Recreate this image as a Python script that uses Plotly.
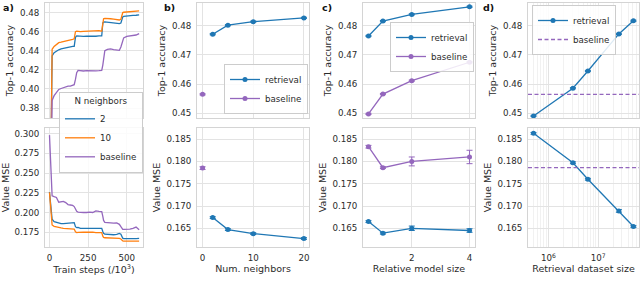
import plotly.graph_objects as go

# ---------------- data ----------------
# panel a: training curves
a_steps = [0, 17, 30, 45, 60, 75, 90, 105, 120, 135, 150, 160, 168, 176, 185, 200, 220, 240, 260, 280,
           300, 320, 338, 345, 350, 358, 375, 395, 415, 435, 452, 462, 469, 474, 480, 500, 520, 540, 560, 580]
a_acc_2 = [0.20, 0.4345, 0.4380, 0.4400, 0.4410, 0.4420, 0.4425, 0.4430, 0.4440, 0.4442, 0.4445, 0.4445,
           0.4540, 0.4555, 0.4553, 0.4550, 0.4550, 0.4552, 0.4550, 0.4548, 0.4552, 0.4555, 0.4555, 0.4690,
           0.4700, 0.4703, 0.4700, 0.4695, 0.4690, 0.4688, 0.4685, 0.4690, 0.4745, 0.4755, 0.4760, 0.4765,
           0.4768, 0.4770, 0.4772, 0.4775]
a_acc_10 = [0.20, 0.4415, 0.4445, 0.4470, 0.4485, 0.4490, 0.4495, 0.4500, 0.4505, 0.4508, 0.4520, 0.4525,
            0.4600, 0.4605, 0.4602, 0.4600, 0.4603, 0.4604, 0.4606, 0.4605, 0.4612, 0.4610, 0.4605, 0.4720,
            0.4735, 0.4738, 0.4740, 0.4735, 0.4732, 0.4728, 0.4722, 0.4730, 0.4790, 0.4800, 0.4803, 0.4805,
            0.4807, 0.4810, 0.4815, 0.4818]
a_acc_base = [0.15, 0.3880, 0.3930, 0.3970, 0.3995, 0.4005, 0.4015, 0.4025, 0.4030, 0.4030, 0.4035, 0.4045,
              0.4100, 0.4170, 0.4195, 0.4190, 0.4188, 0.4192, 0.4190, 0.4192, 0.4190, 0.4192, 0.4195, 0.4250,
              0.4320, 0.4400, 0.4415, 0.4420, 0.4412, 0.4408, 0.4405, 0.4440, 0.4480, 0.4510, 0.4535, 0.4550,
              0.4555, 0.4560, 0.4565, 0.4580]
a_mse_2 = [0.2260, 0.1914, 0.1885, 0.1875, 0.1868, 0.1860, 0.1858, 0.1860, 0.1862, 0.1865, 0.1870, 0.1872,
           0.1820, 0.1808, 0.1812, 0.1800, 0.1798, 0.1797, 0.1800, 0.1798, 0.1800, 0.1802, 0.1800, 0.1760,
           0.1735, 0.1725, 0.1722, 0.1720, 0.1718, 0.1722, 0.1735, 0.1725, 0.1690, 0.1675, 0.1670, 0.1668,
           0.1668, 0.1670, 0.1670, 0.1671]
a_mse_10 = [0.2255, 0.1842, 0.1825, 0.1815, 0.1808, 0.1805, 0.1800, 0.1798, 0.1797, 0.1796, 0.1795, 0.1790,
            0.1755, 0.1745, 0.1748, 0.1752, 0.1750, 0.1752, 0.1755, 0.1750, 0.1745, 0.1748, 0.1745, 0.1700,
            0.1685, 0.1680, 0.1678, 0.1680, 0.1682, 0.1676, 0.1672, 0.1665, 0.1645, 0.1640, 0.1638, 0.1640,
            0.1638, 0.1637, 0.1638, 0.1637]
a_mse_base = [0.2980, 0.2212, 0.2200, 0.2190, 0.2130, 0.2135, 0.2140, 0.2125, 0.2100, 0.2095, 0.2090, 0.2075,
              0.2040, 0.2015, 0.2005, 0.2000, 0.2000, 0.2000, 0.2005, 0.2000, 0.2020, 0.2015, 0.2012, 0.1950,
              0.1900, 0.1875, 0.1870, 0.1868, 0.1865, 0.1868, 0.1850, 0.1820, 0.1795, 0.1787, 0.1785, 0.1786,
              0.1790, 0.1800, 0.1815, 0.1780]

# panel b: number of neighbours
b_neighbors = [2, 5, 10, 20]
b_acc = [0.4771, 0.4802, 0.4814, 0.4827]
b_acc_err = [0.0002, 0.0002, 0.0002, 0.0002]
b_mse = [0.1674, 0.1647, 0.1638, 0.1627]
b_mse_err = [0.0002, 0.0002, 0.0002, 0.0002]
b_base_x = [0]
b_base_acc = [0.4565]
b_base_acc_err = [0.0002]
b_base_mse = [0.1785]
b_base_mse_err = [0.0003]

# panel c: relative model size
c_size = [0.5, 1, 2, 4]
c_ret_acc = [0.4765, 0.4816, 0.4839, 0.4865]
c_ret_acc_err = [0.0002, 0.0002, 0.0002, 0.0002]
c_base_acc = [0.4498, 0.4566, 0.4612, 0.4675]
c_base_acc_err = [0.0002, 0.0002, 0.0002, 0.0002]
c_ret_mse = [0.1665, 0.1639, 0.1650, 0.1645]
c_ret_mse_err = [0.0002, 0.0002, 0.0005, 0.0004]
c_base_mse = [0.1833, 0.1786, 0.1800, 0.1810]
c_base_mse_err = [0.0003, 0.0002, 0.0010, 0.0015]

# panel d: retrieval dataset size
d_size = [5e5, 3.1e6, 6.2e6, 2.6e7, 5.1e7]
d_acc = [0.4491, 0.4586, 0.4645, 0.4772, 0.4817]
d_acc_err = [0.0002, 0.0002, 0.0002, 0.0002, 0.0002]
d_mse = [0.1863, 0.1797, 0.1760, 0.1689, 0.1654]
d_mse_err = [0.0002, 0.0002, 0.0002, 0.0003, 0.0002]
d_base_acc = 0.4565
d_base_mse = 0.1786

# ---------------- style ----------------
W, H = 640, 294
BLUE, ORANGE, PURPLE = "#1f77b4", "#ff7f0e", "#9467bd"
TXT = "#2b2b2b"
GRID = "#e3e3e3"
EDGE = "#d4d4d4"
FONT = "DejaVu Sans"
TICK = 8.7
LAB = 9.5

def xd(a, b):
    return [a / W, b / W]

def yd(a, b):
    return [1 - b / H, 1 - a / H]

cols = {"a": (45, 143), "b": (197, 309), "c": (363, 475), "d": (528, 639)}
TOP, BOT = (3, 118), (128, 247)

fig = go.Figure()

def line_tr(x, y, color, name, xa, ya, legend, show):
    return go.Scatter(x=x, y=y, mode="lines", line=dict(color=color, width=1.3), name=name,
                      xaxis=xa, yaxis=ya, legend=legend, showlegend=show)

def err_tr(x, y, e, color, name, xa, ya, legend, show):
    return go.Scatter(x=x, y=y, mode="lines+markers", name=name,
                      line=dict(color=color, width=1.3), marker=dict(color=color, size=5),
                      error_y=dict(type="data", array=e, color=color, thickness=1, width=3),
                      xaxis=xa, yaxis=ya, legend=legend, showlegend=show)

# panel a
fig.add_trace(line_tr(a_steps, a_acc_2, BLUE, "2", "x", "y", "legend", True))
fig.add_trace(line_tr(a_steps, a_acc_10, ORANGE, "10", "x", "y", "legend", True))
fig.add_trace(line_tr(a_steps, a_acc_base, PURPLE, "baseline", "x", "y", "legend", True))
fig.add_trace(line_tr(a_steps, a_mse_2, BLUE, "2", "x2", "y2", "legend", False))
fig.add_trace(line_tr(a_steps, a_mse_10, ORANGE, "10", "x2", "y2", "legend", False))
fig.add_trace(line_tr(a_steps, a_mse_base, PURPLE, "baseline", "x2", "y2", "legend", False))

# panel b
fig.add_trace(err_tr(b_neighbors, b_acc, b_acc_err, BLUE, "retrieval", "x3", "y3", "legend2", True))
fig.add_trace(err_tr(b_base_x, b_base_acc, b_base_acc_err, PURPLE, "baseline", "x3", "y3", "legend2", True))
fig.add_trace(err_tr(b_neighbors, b_mse, b_mse_err, BLUE, "retrieval", "x4", "y4", "legend2", False))
fig.add_trace(err_tr(b_base_x, b_base_mse, b_base_mse_err, PURPLE, "baseline", "x4", "y4", "legend2", False))

# panel c
fig.add_trace(err_tr(c_size, c_ret_acc, c_ret_acc_err, BLUE, "retrieval", "x5", "y5", "legend3", True))
fig.add_trace(err_tr(c_size, c_base_acc, c_base_acc_err, PURPLE, "baseline", "x5", "y5", "legend3", True))
fig.add_trace(err_tr(c_size, c_ret_mse, c_ret_mse_err, BLUE, "retrieval", "x6", "y6", "legend3", False))
fig.add_trace(err_tr(c_size, c_base_mse, c_base_mse_err, PURPLE, "baseline", "x6", "y6", "legend3", False))

# panel d
fig.add_trace(err_tr(d_size, d_acc, d_acc_err, BLUE, "retrieval", "x7", "y7", "legend4", True))
fig.add_trace(go.Scatter(x=[None], y=[None], mode="lines", name="baseline",
                         line=dict(color=PURPLE, width=1.3, dash="4px,2.5px"),
                         xaxis="x7", yaxis="y7", legend="legend4", showlegend=True))
fig.add_trace(err_tr(d_size, d_mse, d_mse_err, BLUE, "retrieval", "x8", "y8", "legend4", False))
for xa, ya, val in (("x7", "y7", d_base_acc), ("x8", "y8", d_base_mse)):
    fig.add_shape(type="line", xref=xa + " domain", x0=0, x1=1,
                  yref=ya, y0=val, y1=val, line=dict(color=PURPLE, width=1.3, dash="4px,2.5px"))

def axis(**kw):
    base = dict(showgrid=True, gridcolor=GRID, gridwidth=1, zeroline=False, showline=True, mirror=True,
                linecolor=EDGE, linewidth=1, ticks="", tickfont=dict(family=FONT, size=TICK, color=TXT),
                title_font=dict(family=FONT, size=LAB, color=TXT), ticklabelstandoff=3)
    base.update(kw)
    return base

lay = {}
acc_ticks = [0.45, 0.46, 0.47, 0.48]
mse_ticks = [0.165, 0.170, 0.175, 0.180, 0.185]
acc_rng = [0.4484, 0.4878]
mse_rng = [0.1608, 0.1875]

# a
lay["xaxis"] = axis(domain=xd(*cols["a"]), anchor="y", range=[-29, 605], tickvals=[0, 250, 500], showticklabels=False)
lay["yaxis"] = axis(domain=yd(*TOP), anchor="x", range=[0.3696, 0.490], tickvals=[0.38, 0.40, 0.42, 0.44, 0.46, 0.48],
                    tickformat=".2f", title=dict(text="Top-1 accuracy", standoff=4))
lay["xaxis2"] = axis(domain=xd(*cols["a"]), anchor="y2", range=[-29, 605], tickvals=[0, 250, 500],
                     title=dict(text="Train steps (/10<sup>3</sup>)", standoff=2))
lay["yaxis2"] = axis(domain=yd(*BOT), anchor="x2", range=[0.1563, 0.307], tickvals=[0.175, 0.2, 0.225, 0.25, 0.275, 0.3],
                     tickformat=".3f", title=dict(text="Value MSE", standoff=4))
# b
lay["xaxis3"] = axis(domain=xd(*cols["b"]), anchor="y3", range=[-1.1, 21.0], tickvals=[0, 10, 20], showticklabels=False)
lay["yaxis3"] = axis(domain=yd(*TOP), anchor="x3", range=acc_rng, tickvals=acc_ticks, tickformat=".2f",
                     title=dict(text="Top-1 accuracy", standoff=4))
lay["xaxis4"] = axis(domain=xd(*cols["b"]), anchor="y4", range=[-1.1, 21.0], tickvals=[0, 10, 20],
                     title=dict(text="Num. neighbors", standoff=2))
lay["yaxis4"] = axis(domain=yd(*BOT), anchor="x4", range=mse_rng, tickvals=mse_ticks, tickformat=".3f",
                     title=dict(text="Value MSE", standoff=4))
# c
lay["xaxis5"] = axis(domain=xd(*cols["c"]), anchor="y5", range=[0.31, 4.19], tickvals=[2, 4], showticklabels=False)
lay["yaxis5"] = axis(domain=yd(*TOP), anchor="x5", range=acc_rng, tickvals=acc_ticks, tickformat=".2f",
                     title=dict(text="Top-1 accuracy", standoff=4))
lay["xaxis6"] = axis(domain=xd(*cols["c"]), anchor="y6", range=[0.31, 4.19], tickvals=[2, 4],
                     title=dict(text="Relative model size", standoff=2))
lay["yaxis6"] = axis(domain=yd(*BOT), anchor="x6", range=mse_rng, tickvals=mse_ticks, tickformat=".3f",
                     title=dict(text="Value MSE", standoff=4))
# d
minor_vals = [k * 10 ** e for e in (5, 6, 7) for k in range(2, 10)]
minor = dict(showgrid=True, gridcolor="#f1f1f1", gridwidth=1, tickvals=minor_vals, ticks="")
lay["xaxis7"] = axis(domain=xd(*cols["d"]), anchor="y7", type="log", range=[5.588, 7.82], tickvals=[1e6, 1e7],
                     showticklabels=False, minor=minor)
lay["yaxis7"] = axis(domain=yd(*TOP), anchor="x7", range=acc_rng, tickvals=acc_ticks, tickformat=".2f",
                     title=dict(text="Top-1 accuracy", standoff=4))
lay["xaxis8"] = axis(domain=xd(*cols["d"]), anchor="y8", type="log", range=[5.588, 7.82], tickvals=[1e6, 1e7],
                     ticktext=["10<sup>6</sup>", "10<sup>7</sup>"], minor=minor,
                     title=dict(text="Retrieval dataset size", standoff=2))
lay["yaxis8"] = axis(domain=yd(*BOT), anchor="x8", range=mse_rng, tickvals=mse_ticks, tickformat=".3f",
                     title=dict(text="Value MSE", standoff=4))

def leg(x, y, xa, ya, title=None):
    d = dict(x=x / W, y=1 - y / H, xanchor=xa, yanchor=ya, bgcolor="rgba(255,255,255,0.85)",
             bordercolor="#cccccc", borderwidth=1, font=dict(family=FONT, size=TICK, color=TXT),
             itemwidth=30, tracegroupgap=0)
    if title:
        d["title"] = dict(text=title, side="top center", font=dict(family=FONT, size=TICK, color=TXT))
    return d

lay["legend"] = leg(143, 92, "right", "top", "N neighbors")
lay["legend2"] = leg(308, 114, "right", "bottom")
lay["legend3"] = leg(474, 22, "right", "top")
lay["legend4"] = leg(532, 5, "left", "top")

fig.update_layout(**lay)

for lbl, px in (("a)", 1), ("b)", 162), ("c)", 320), ("d)", 481)):
    fig.add_annotation(text="<b>%s</b>" % lbl, x=px / W, y=1.0, xref="paper", yref="paper",
                       xanchor="left", yanchor="top", showarrow=False,
                       font=dict(family=FONT, size=LAB, color="#111111"))

fig.update_layout(width=W, height=H, margin=dict(l=0, r=0, t=0, b=0), plot_bgcolor="white",
                  paper_bgcolor="white", font=dict(family=FONT, size=TICK, color=TXT))

fig.write_html("out.html", config={"displayModeBar": False},
               post_script="document.body.style.margin='0';document.body.style.padding='0';")
